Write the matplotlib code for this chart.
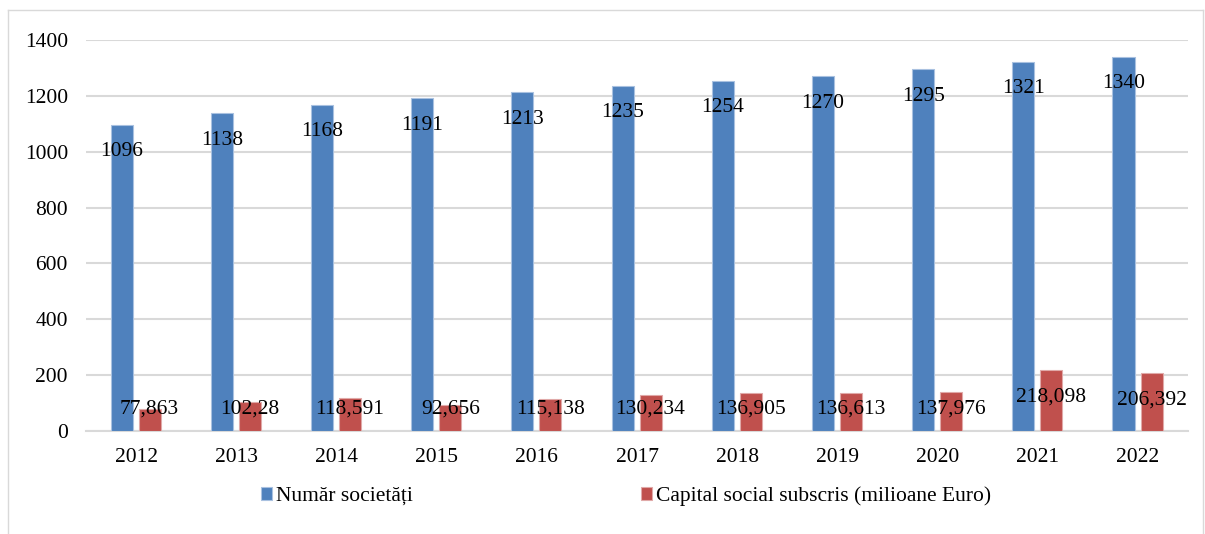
import numpy as np
import matplotlib
matplotlib.use("Agg")
import matplotlib.pyplot as plt
from matplotlib.lines import Line2D

plt.rcParams["font.family"] = ["Liberation Serif", "DejaVu Serif"]

years = ["2012", "2013", "2014", "2015", "2016", "2017", "2018", "2019", "2020", "2021", "2022"]
societati = [1096, 1138, 1168, 1191, 1213, 1235, 1254, 1270, 1295, 1321, 1340]
capital = [77.863, 102.28, 118.591, 92.656, 115.138, 130.234, 136.905, 136.613, 137.976, 218.098, 206.392]
capital_labels = ["77,863", "102,28", "118,591", "92,656", "115,138", "130,234",
                  "136,905", "136,613", "137,976", "218,098", "206,392"]

blue = "#4F81BD"
red = "#C0504D"
fs = 15.5

fig = plt.figure(figsize=(12.05, 5.34), dpi=100)
ax = fig.add_axes([0.0714, 0.193, 0.9146, 0.732])

x = np.arange(len(years))
w = 0.22
b1 = ax.bar(x - 0.145, societati, w, color=blue, edgecolor="#a9c1e0", linewidth=0.8,
            label="Număr societăți", zorder=3)
b2 = ax.bar(x + 0.135, capital, w, color=red, edgecolor="#e0a9a8", linewidth=0.8,
            label="Capital social subscris (milioane Euro)", zorder=3)

# etichete: "inside end", dar nu mai jos de un minim
for xi, v in zip(x, societati):
    ax.text(xi - 0.145, max(v - 96, 79), str(v), ha="center", va="center", fontsize=fs, zorder=4)
for xi, v, s in zip(x, capital, capital_labels):
    ax.text(xi + 0.135, max(v - 96, 79), s, ha="center", va="center", fontsize=fs, zorder=4)

ax.set_xlim(-0.5, 10.5)
ax.set_ylim(0, 1400)
ax.set_yticks(range(0, 1401, 200))
ax.set_xticks(x)
ax.set_xticklabels(years)
ax.tick_params(axis="both", length=0, labelsize=fs)
ax.tick_params(axis="y", pad=13)
ax.tick_params(axis="x", pad=12)
ax.grid(axis="y", color="#d9d9d9", linewidth=1.5, zorder=0)
for s in ["top", "right", "left"]:
    ax.spines[s].set_visible(False)
ax.spines["bottom"].set_color("#d9d9d9")
ax.spines["bottom"].set_linewidth(1.5)

fig.legend(handles=[b1, b2], loc="center left", bbox_to_anchor=(261 / 1205, 0.071), ncol=2,
           frameon=False, fontsize=fs, handlelength=0.52, handleheight=0.52,
           handletextpad=0.18, columnspacing=10.6, borderpad=0, borderaxespad=0)

# chenarul graficului
for xs, ys in [((0.007, 0.007), (-0.1, 0.981)), ((0.007, 0.998), (0.981, 0.981)),
               ((0.998, 0.998), (0.981, -0.1))]:
    fig.add_artist(Line2D(xs, ys, transform=fig.transFigure, color="#d9d9d9", linewidth=1))

fig.savefig("out.png", dpi=100)
